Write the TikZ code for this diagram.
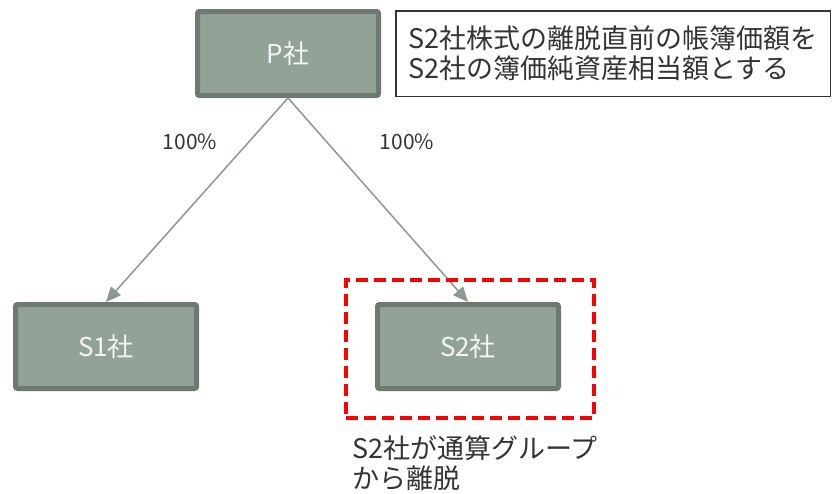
\documentclass[tikz,border=0pt]{standalone}
\usepackage{fontspec}
\setmainfont{Noto Sans CJK JP}
\usepackage{tikz}
\usetikzlibrary{arrows.meta}

\definecolor{boxfill}{RGB}{147,162,151}
\definecolor{boxedge}{RGB}{110,122,111}
\definecolor{linkcol}{RGB}{138,154,143}
\definecolor{inkcol}{RGB}{51,51,56}

\begin{document}
\begin{tikzpicture}[x=1pt,y=-1pt,
                    company/.style={draw=boxedge,fill=boxfill,line width=5pt,
                                    rounded corners=2pt,minimum width=181pt,
                                    minimum height=84pt,text=white!96!black,
                                    font=\fontsize{26pt}{28pt}\selectfont},
                    link/.style={draw=linkcol,line width=1.5pt,
                                 -{Triangle[length=15pt,width=13pt]}},
                    share/.style={text=inkcol,font=\fontsize{21pt}{23pt}\selectfont},
                    note/.style={text=inkcol,align=left,
                                 font=\fontsize{27pt}{30pt}\selectfont}]
                              % Frame
                              \useasboundingbox (0,0) rectangle (832,493);

                              % Companies
                              \node[company] (P) at (288,53.5) {P社};
                              \node[company] (S1) at (106,346.5) {S1社};
                              \node[company] (S2) at (468,346.5) {S2社};

                              % Holdings
                              \draw[link] (P.south) -- (S1.north);
                              \draw[link] (P.south) -- (S2.north);
                              \node[share] (pc1) at (190,142) {100\%};
                              \node[share] (pc2) at (407,142) {100\%};

                              % Leaving group
                              \node[draw=red,line width=4pt,dash pattern=on 12pt off 6pt,
                                    minimum width=248pt,minimum height=138pt]
                                    (exit) at (470,349) {};
                              \node[note,anchor=west,inner sep=0pt] (exitnote) at (352,463)
                                    {S2社が通算グループ\\から離脱};

                              % Valuation note
                              \node[note,draw=inkcol,line width=1.5pt,minimum width=434.5pt,
                                    minimum height=85.5pt] (rule) at (613,53.5)
                                    {S2社株式の離脱直前の帳簿価額を\\S2社の簿価純資産相当額とする};
                        \end{tikzpicture}
\end{document}
